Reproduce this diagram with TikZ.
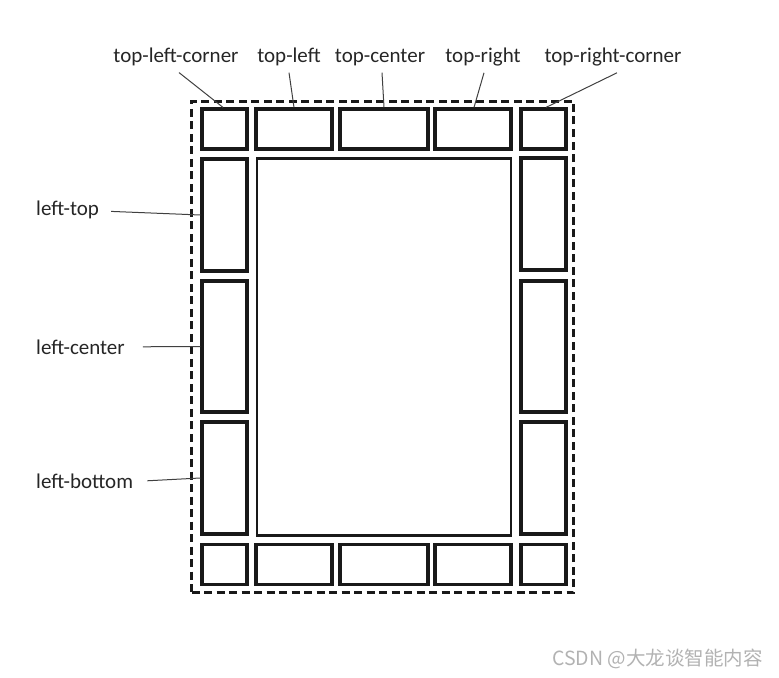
\documentclass[tikz,border=0pt]{standalone}
\usepackage{fontspec}
\setmainfont{Carlito}
\newfontfamily\cjkfont{Noto Sans CJK SC}
\begin{document}
\begin{tikzpicture}[
  x=1bp, y=-1bp,
  cell/.style={draw=black!90, line width=3.2bp, inner sep=0pt},
  body/.style={draw=black!90, line width=2.2bp, inner sep=0pt},
  lbl/.style={font=\fontsize{21bp}{25bp}\selectfont, text=black!85, inner sep=0pt},
  pin/.style={draw=black!75, line width=1bp}
]
  \useasboundingbox (0,0) rectangle (779,678);
  % outer frame
  \node[draw=black!90, dash pattern=on 8bp off 4.5bp, line width=2.2bp, inner sep=0pt,
        minimum width=382bp, minimum height=491bp] (frame) at (382.5,347) {};
  % top row
  \node[cell, minimum width=45bp, minimum height=40bp] (tlc) at (224.5,129) {};
  \node[cell, minimum width=76bp, minimum height=40bp] (tl) at (294,129) {};
  \node[cell, minimum width=88bp, minimum height=40bp] (tc) at (384,129) {};
  \node[cell, minimum width=76bp, minimum height=40bp] (tr) at (473,129) {};
  \node[cell, minimum width=45bp, minimum height=40bp] (trc) at (543.5,129) {};
  % left and right columns
  \node[cell, minimum width=45bp, minimum height=112bp] (lt) at (224.5,215) {};
  \node[cell, minimum width=45bp, minimum height=131bp] (lc) at (224.5,346.5) {};
  \node[cell, minimum width=45bp, minimum height=112bp] (lb) at (224.5,478) {};
  \node[cell, minimum width=45bp, minimum height=112bp] (rt) at (543.5,214) {};
  \node[cell, minimum width=45bp, minimum height=131bp] (rc) at (543.5,346.5) {};
  \node[cell, minimum width=45bp, minimum height=112bp] (rb) at (543.5,478) {};
  % bottom row
  \node[cell, minimum width=45bp, minimum height=40bp] (blc) at (224.5,564.5) {};
  \node[cell, minimum width=76bp, minimum height=40bp] (bl) at (294,564.5) {};
  \node[cell, minimum width=88bp, minimum height=40bp] (bc) at (384,564.5) {};
  \node[cell, minimum width=76bp, minimum height=40bp] (br) at (473,564.5) {};
  \node[cell, minimum width=45bp, minimum height=40bp] (brc) at (543.5,564.5) {};
  % content area
  \node[body, minimum width=254bp, minimum height=377bp] (main) at (384,347) {};
  % labels
  \node[lbl, anchor=base] (tlcL) at (176,63) {top-left-corner};
  \node[lbl, anchor=base] (tlL) at (289,63) {top-left};
  \node[lbl, anchor=base] (tcL) at (380,63) {top-center};
  \node[lbl, anchor=base] (trL) at (483,63) {top-right};
  \node[lbl, anchor=base] (trcL) at (613,63) {top-right-corner};
  \node[lbl, anchor=base west] (ltL) at (36,215) {left-top};
  \node[lbl, anchor=base west] (lcL) at (36,354) {left-center};
  \node[lbl, anchor=base west] (lbL) at (36,488) {left-bottom};
  \draw[pin] ([xshift=3bp, yshift=-6bp]tlcL.south) -- ([xshift=-1.5bp]tlc.north);
  \draw[pin] ([yshift=-6bp]tlL.south) -- (tl.north);
  \draw[pin] ([xshift=2bp, yshift=-6bp]tcL.south) -- (tc.north);
  \draw[pin] ([xshift=1bp, yshift=-6bp]trL.south) -- ([xshift=1bp]tr.north);
  \draw[pin] ([xshift=4bp, yshift=-6bp]trcL.south) -- ([xshift=2.5bp]trc.north);
  \draw[pin] ([xshift=12bp, yshift=-2bp]ltL.east) -- (lt.west);
  \draw[pin] ([xshift=18bp]lcL.east) -- (lc.west);
  \draw[pin] ([xshift=14bp]lbL.east) -- (lb.west);
  % watermark
  \node[font=\cjkfont\fontsize{19.5bp}{23bp}\selectfont, text=black!30, anchor=east, inner sep=0pt]
    (mark) at (763,659) {CSDN @大龙谈智能内容};
\end{tikzpicture}
\end{document}
